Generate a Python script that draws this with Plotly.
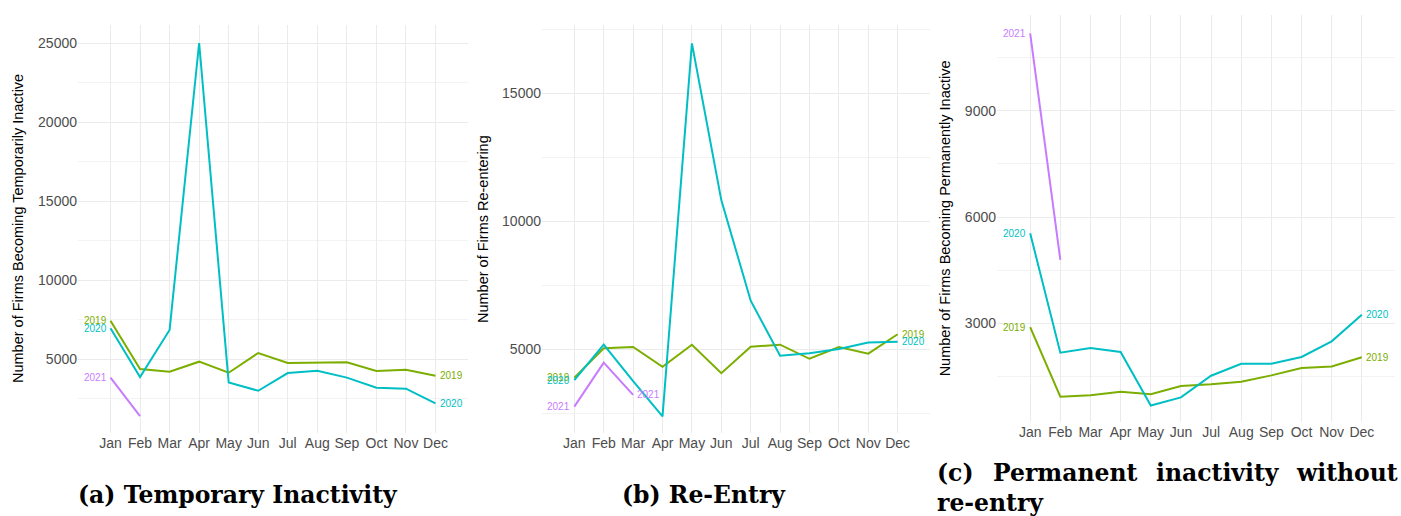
import plotly.graph_objects as go

# ---- data -------------------------------------------------------------
months = ["Jan", "Feb", "Mar", "Apr", "May", "Jun",
          "Jul", "Aug", "Sep", "Oct", "Nov", "Dec"]

temp_2019 = [7420, 4370, 4200, 4830, 4130, 5380, 4750, 4750, 4790, 4240, 4320, 3940]
temp_2020 = [6940, 3860, 6840, 25000, 3520, 2990, 4110, 4260, 3820, 3180, 3120, 2190]
temp_2021 = [3820, 1390]

reentry_2019 = [3890, 5040, 5090, 4320, 5180, 4070, 5100, 5180, 4630, 5090, 4830, 5590]
reentry_2020 = [3800, 5180, 3760, 2380, 16950, 10830, 6900, 4750, 4850, 5010, 5270, 5300]
reentry_2021 = [2760, 4480, 3220]

perm_2019 = [2890, 930, 970, 1070, 1000, 1230, 1280, 1350, 1530, 1740, 1780, 2040]
perm_2020 = [5540, 2170, 2300, 2190, 680, 910, 1520, 1860, 1860, 2050, 2490, 3240]
perm_2021 = [11180, 4790]

year_colors = {"2019": "#7CAE00", "2020": "#00BFC4", "2021": "#C77CFF"}

W, H = 1401, 516


def px_x(p):
    return p / W


def px_y(p):
    return (H - p) / H


panels = [
    dict(series={"2019": temp_2019, "2020": temp_2020, "2021": temp_2021},
         xdom=(78, 468), ydom=(25, 433), yrange=(316, 26140),
         ticks=[5000, 10000, 15000, 20000, 25000], minor=2500,
         ytitle="Number of Firms Becoming Temporarily Inactive", ytitle_x=18,
         left=["2019", "2020", "2021"], right=["2019", "2020"]),
    dict(series={"2019": reentry_2019, "2020": reentry_2020, "2021": reentry_2021},
         xdom=(542, 930), ydom=(25, 433), yrange=(1731, 17668),
         ticks=[5000, 10000, 15000], minor=2500,
         ytitle="Number of Firms Re-entering", ytitle_x=483,
         left=["2019", "2020", "2021"], right=["2019", "2020", "2021"]),
    dict(series={"2019": perm_2019, "2020": perm_2020, "2021": perm_2021},
         xdom=(997, 1395), ydom=(15, 421.7), yrange=(223, 11701),
         ticks=[3000, 6000, 9000], minor=1500,
         ytitle="Number of Firms Becoming Permanently Inactive", ytitle_x=945,
         left=["2019", "2020", "2021"], right=["2019", "2020"]),
]

fig = go.Figure()
annotations = []
layout_axes = {}

for i, p in enumerate(panels, start=1):
    xa = "x" if i == 1 else f"x{i}"
    ya = "y" if i == 1 else f"y{i}"
    for year in ["2019", "2020", "2021"]:
        vals = p["series"][year]
        fig.add_trace(go.Scatter(
            x=list(range(len(vals))), y=vals, mode="lines",
            line=dict(color=year_colors[year], width=2),
            xaxis=xa, yaxis=ya, showlegend=False, hoverinfo="skip"))
    # year labels at the ends of each line
    for year in p["left"]:
        vals = p["series"][year]
        annotations.append(dict(
            x=0, y=vals[0], xref=xa, yref=ya, text=year, showarrow=False,
            xanchor="right", xshift=-2,
            font=dict(family="Liberation Sans", size=10, color=year_colors[year])))
    for year in p["right"]:
        vals = p["series"][year]
        annotations.append(dict(
            x=len(vals) - 1, y=vals[-1], xref=xa, yref=ya, text=year, showarrow=False,
            xanchor="left", xshift=2,
            font=dict(family="Liberation Sans", size=10, color=year_colors[year])))
    # y-axis title
    annotations.append(dict(
        x=px_x(p["ytitle_x"]), y=px_y((p["ydom"][0] + p["ydom"][1]) / 2),
        xref="paper", yref="paper", text=p["ytitle"], textangle=-90,
        showarrow=False, xanchor="center", yanchor="middle",
        font=dict(family="Liberation Sans", size=14.5, color="black")))

    key = "" if i == 1 else str(i)
    layout_axes[f"xaxis{key}"] = dict(
        domain=[px_x(p["xdom"][0]), px_x(p["xdom"][1])], anchor=ya,
        range=[-1.1, 12.1], tickvals=list(range(12)), ticktext=months,
        showgrid=True, gridcolor="#EBEBEB", gridwidth=1, zeroline=False,
        showline=False, ticks="", fixedrange=True,
        tickfont=dict(family="Liberation Sans", size=14, color="#4D4D4D"))
    layout_axes[f"yaxis{key}"] = dict(
        domain=[px_y(p["ydom"][1]), px_y(p["ydom"][0])], anchor=xa,
        range=list(p["yrange"]), tickvals=p["ticks"], tickformat="d",
        showgrid=True, gridcolor="#EBEBEB", gridwidth=1, zeroline=False,
        showline=False, ticks="", fixedrange=True,
        minor=dict(dtick=p["minor"], tick0=0, showgrid=True,
                   gridcolor="#F3F3F3", gridwidth=0.7),
        tickfont=dict(family="Liberation Sans", size=14, color="#4D4D4D"))

# ---- sub-figure captions ----------------------------------------------
cap_font = dict(family="DejaVu Serif", size=23.5, color="black", weight="bold")
annotations.append(dict(x=px_x(238), y=px_y(495), xref="paper", yref="paper",
                        text="(a) Temporary Inactivity", showarrow=False,
                        xanchor="center", yanchor="middle", font=cap_font))
annotations.append(dict(x=px_x(704), y=px_y(495), xref="paper", yref="paper",
                        text="(b) Re-Entry", showarrow=False,
                        xanchor="center", yanchor="middle", font=cap_font))
# justified first line of caption (c)
for word, x0 in [("(c)", 935), ("Permanent", 991), ("inactivity", 1154), ("without", 1294)]:
    annotations.append(dict(x=px_x(x0), y=px_y(473), xref="paper", yref="paper",
                            text=word, showarrow=False,
                            xanchor="left", yanchor="middle", font=cap_font))
annotations.append(dict(x=px_x(935), y=px_y(503), xref="paper", yref="paper",
                        text="re-entry", showarrow=False,
                        xanchor="left", yanchor="middle", font=cap_font))

fig.update_layout(
    width=W, height=H, margin=dict(l=0, r=0, t=0, b=0),
    paper_bgcolor="white", plot_bgcolor="white",
    annotations=annotations, **layout_axes)

fig.write_html("out.html", config={"displayModeBar": False})
